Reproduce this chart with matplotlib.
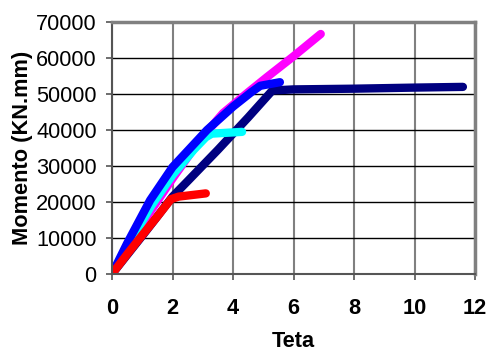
import matplotlib
matplotlib.use("Agg")
import matplotlib.pyplot as plt

plt.rcParams['font.family'] = ['Liberation Sans', 'DejaVu Sans']

# rotation (teta) vs moment curves for the five tested beams
navy_x = [0, 0.5, 1.0, 1.5, 2.0, 2.5, 3.5, 4.5, 5.3, 6.0, 8.0, 10.0, 11.6]
navy_y = [0, 5300, 10600, 16000, 21500, 25800, 34500, 43500, 51000, 51300, 51500, 51800, 52000]

magenta_x = [0, 0.5, 1.0, 2.0, 2.9, 3.67, 4.5, 5.12, 6.0, 6.9]
magenta_y = [0, 7000, 14000, 26500, 37200, 44700, 50500, 54700, 60500, 66700]

cyan_x = [0, 0.5, 1.3, 2.0, 2.7, 3.1, 3.3, 4.3]
cyan_y = [0, 7500, 19000, 27500, 34500, 38000, 39000, 39500]

blue_x = [0, 0.5, 1.26, 2.0, 3.14, 4.0, 4.6, 4.9, 5.55]
blue_y = [0, 8500, 20500, 29700, 40000, 46500, 50500, 52300, 53300]

red_x = [0, 0.5, 1.0, 1.5, 1.95, 2.2, 3.1]
red_y = [0, 5500, 10800, 16000, 20800, 21500, 22400]

fig = plt.figure(figsize=(4.9, 3.51), dpi=100)
ax = fig.add_axes([0.2286, 0.2194, 0.7408, 0.7176])

lw = 6
ax.plot(navy_x, navy_y, color='#000080', lw=lw, solid_capstyle='round', solid_joinstyle='round')
ax.plot(magenta_x, magenta_y, color='#ff00ff', lw=lw, solid_capstyle='round', solid_joinstyle='round')
ax.plot(cyan_x, cyan_y, color='#00ffff', lw=lw, solid_capstyle='round', solid_joinstyle='round')
ax.plot(blue_x, blue_y, color='#0000ff', lw=lw, solid_capstyle='round', solid_joinstyle='round')
ax.plot(red_x, red_y, color='#ff0000', lw=lw, solid_capstyle='round', solid_joinstyle='round')

ax.set_xlim(0, 12)
ax.set_ylim(0, 70000)
ax.set_xticks(range(0, 13, 2))
ax.set_yticks(range(0, 70001, 10000))

ax.xaxis.grid(True, color='#808080', lw=1.5)
ax.yaxis.grid(True, color='black', lw=1)
ax.set_axisbelow(True)

for side in ['top', 'right']:
    ax.spines[side].set_color('#808080')
    ax.spines[side].set_linewidth(2.5)
for side in ['left', 'bottom']:
    ax.spines[side].set_color('#555555')
    ax.spines[side].set_linewidth(1.5)

ax.tick_params(direction='out', length=4, width=1.2, color='#555555', labelsize=15.7)
ax.tick_params(axis='x', pad=13)
ax.tick_params(axis='y', pad=7)
for lab in ax.get_xticklabels():
    lab.set_fontweight('bold')

fig.text(0.598, 0.028, 'Teta', fontsize=15.7, fontweight='bold', ha='center', va='center')
fig.text(0.045, 0.58, 'Momento (KN.mm)', fontsize=15.7, fontweight='bold',
         ha='center', va='center', rotation=90)

fig.savefig('out.png', dpi=100)
